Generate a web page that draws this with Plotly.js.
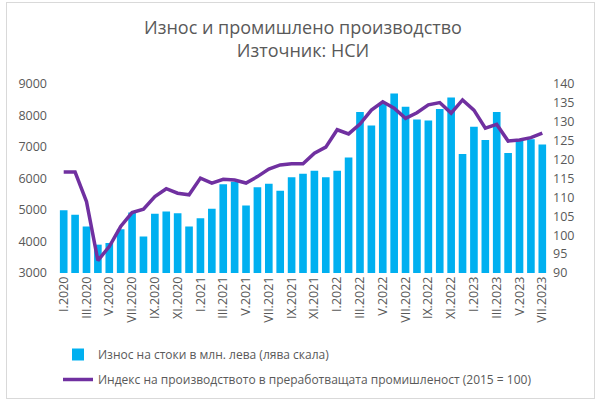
<!DOCTYPE html>
<html>
<head>
<meta charset="utf-8">
<script src="https://cdn.plot.ly/plotly-3.0.1.min.js"></script>
<style>
  body { margin: 0; }
  #wrap { position: relative; width: 600px; height: 400px; }
  #frame { position: absolute; left: 6px; top: 2px; width: 587px; height: 395px;
           border: 1px solid #d9d9d9; pointer-events: none; }
</style>
</head>
<body>
<div id="wrap">
  <div id="chart" style="width:600px;height:400px;"></div>
  <div id="frame"></div>
</div>
<script>
(function () {
  // months I.2020 .. VII.2023
  let romans = ['I', 'II', 'III', 'IV', 'V', 'VI', 'VII', 'VIII', 'IX', 'X', 'XI', 'XII'];
  let months = [];
  for (let y = 2020; y <= 2023; y++) {
    for (let m = 0; m < 12; m++) {
      if (y === 2023 && m > 6) break;
      months.push(romans[m] + '.' + y);
    }
  }

  // Износ на стоки в млн. лева
  let exports = [
    4990, 4850, 4480, 3900, 3950, 4390, 4920, 4160, 4880, 4950, 4900, 4480,
    4740, 5040, 5820, 5900, 5140, 5720, 5830, 5610, 6040, 6150, 6250, 6040,
    6250, 6670, 8110, 7680, 8370, 8700, 8280, 7870, 7840, 8210, 8570, 6780,
    7640, 7220, 8110, 6810, 7200, 7250, 7080
  ];

  // Индекс на производството (2015 = 100)
  let index = [
    116.7, 116.7, 108.9, 93.3, 97.0, 102.3, 106.0, 106.9, 110.2, 112.3, 111.1, 110.7,
    115.1, 113.8, 114.8, 114.6, 113.8, 115.5, 117.5, 118.6, 118.9, 118.9, 121.7, 123.3,
    127.9, 126.8, 129.4, 133.1, 135.3, 133.6, 130.9, 132.4, 134.5, 135.1, 132.3, 135.8,
    133.1, 128.3, 129.3, 124.9, 125.2, 125.8, 127.0
  ];

  let tickLabels = months.filter(function (m, i) { return i % 2 === 0; });

  let grey = '#595959';
  let font = 'Open Sans, Noto Sans, sans-serif';

  let bars = {
    x: months,
    y: exports,
    type: 'bar',
    name: 'Износ на стоки в млн. лева (лява скала)',
    legendgroup: 'a',
    marker: { color: '#00b0f0' },
    hoverinfo: 'x+y'
  };

  let line = {
    x: months,
    y: index,
    type: 'scatter',
    mode: 'lines',
    yaxis: 'y2',
    name: 'Индекс на производството в преработващата промишленост (2015 = 100)',
    legendgroup: 'b',
    line: { color: '#7030a0', width: 3.5 },
    hoverinfo: 'x+y'
  };

  let layout = {
    width: 600,
    height: 400,
    margin: { l: 58, r: 52, t: 84, b: 127 },
    paper_bgcolor: '#ffffff',
    plot_bgcolor: '#ffffff',
    font: { family: font, color: grey, size: 12 },
    title: {
      text: 'Износ и промишлено производство<br>Източник: НСИ',
      font: { family: font, size: 18, color: grey },
      x: 0.5,
      xref: 'paper',
      yref: 'container',
      y: 0.915,
      yanchor: 'middle'
    },
    bargap: 0.33,
    showlegend: true,
    legend: {
      x: 0.0,
      xanchor: 'left',
      yref: 'container',
      y: 0.15,
      yanchor: 'top',
      traceorder: 'grouped',
      tracegroupgap: 6,
      font: { family: font, size: 12, color: grey },
      itemwidth: 30
    },
    xaxis: {
      type: 'category',
      tickmode: 'array',
      tickvals: tickLabels,
      ticktext: tickLabels,
      tickangle: -90,
      tickfont: { size: 12.5, color: grey },
      automargin: false,
      showgrid: false,
      showline: false,
      ticks: ''
    },
    yaxis: {
      range: [3000, 9000],
      dtick: 1000,
      automargin: false,
      ticklabelstandoff: 10,
      showgrid: false,
      zeroline: false,
      showline: false,
      ticks: '',
      tickfont: { size: 12.5, color: grey }
    },
    yaxis2: {
      overlaying: 'y',
      side: 'right',
      range: [90, 140],
      dtick: 5,
      automargin: false,
      ticklabelstandoff: 4,
      showgrid: false,
      zeroline: false,
      showline: false,
      ticks: '',
      tickfont: { size: 12.5, color: grey }
    }
  };

  Plotly.newPlot('chart', [bars, line], layout, { displayModeBar: false, staticPlot: true });
})();
</script>
</body>
</html>
